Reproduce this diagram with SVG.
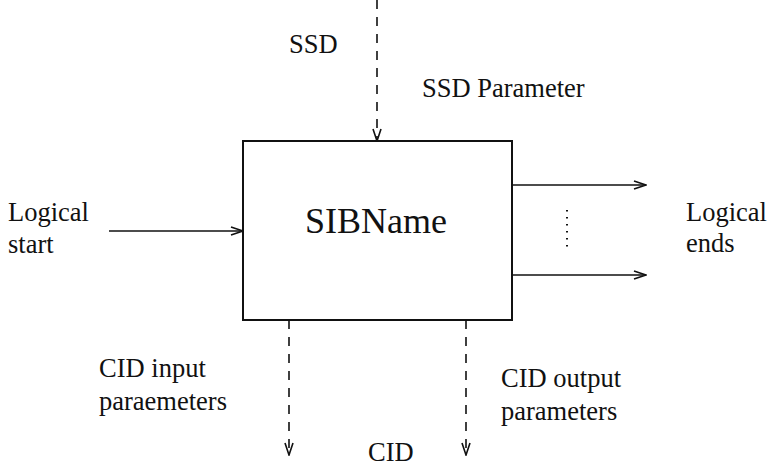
<svg xmlns="http://www.w3.org/2000/svg" width="773" height="468" viewBox="0 0 773 468">
<style>
text{font-family:"Liberation Serif","Times New Roman",serif;font-size:26.5px;fill:#111}
.ln{stroke:#111;stroke-width:1.6;fill:none}
.dash{stroke-dasharray:9 8}
</style>
<defs>
<marker id="ah" viewBox="0 0 14 10" refX="13" refY="5" markerWidth="14" markerHeight="10" markerUnits="userSpaceOnUse" orient="auto">
<path d="M1,1 L13,5 L1,9" fill="none" stroke="#111" stroke-width="1.6"/>
</marker>
</defs>
<rect width="773" height="468" fill="#fff"/>
<g id="sib">
<rect x="243" y="141" width="269" height="179" fill="#fff" stroke="#111" stroke-width="2"/>
<text x="376" y="233" text-anchor="middle" style="font-size:36px">SIBName</text>
</g>
<g id="connectors">
<line class="ln dash" x1="377" y1="0" x2="377" y2="141" marker-end="url(#ah)"/>
<line class="ln" x1="109" y1="231" x2="243" y2="231" marker-end="url(#ah)"/>
<line class="ln" x1="512" y1="185" x2="646" y2="185" marker-end="url(#ah)"/>
<line class="ln" x1="512" y1="275" x2="646" y2="275" marker-end="url(#ah)"/>
<line class="ln dash" x1="289" y1="320" x2="289" y2="455" marker-end="url(#ah)"/>
<line class="ln dash" x1="466" y1="320" x2="466" y2="455" marker-end="url(#ah)"/>
<line x1="567" y1="210" x2="567" y2="248" stroke="#111" stroke-width="2" stroke-dasharray="1.5 5.5"/>
</g>
<g id="labels">
<text x="289" y="53">SSD</text>
<text x="422" y="97">SSD Parameter</text>
<text x="8" y="221">Logical</text>
<text x="8" y="253">start</text>
<text x="686" y="221">Logical</text>
<text x="686" y="252">ends</text>
<text x="99" y="377">CID input</text>
<text x="99" y="410">paraemeters</text>
<text x="501" y="387">CID output</text>
<text x="501" y="420">parameters</text>
<text x="368" y="461">CID</text>
</g>
</svg>
